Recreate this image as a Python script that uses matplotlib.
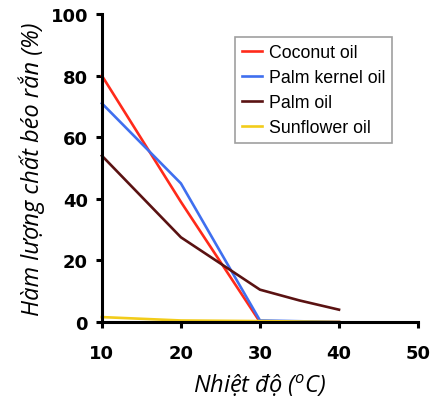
import matplotlib
matplotlib.use("Agg")
import matplotlib.pyplot as plt

plt.rcParams['mathtext.fontset'] = 'custom'
plt.rcParams['mathtext.rm'] = 'Open Sans:italic'
plt.rcParams['mathtext.it'] = 'Open Sans:italic'

temps_coconut = [10, 20, 30, 40]
coconut = [80, 39, 0, 0]
temps_pk = [10, 20, 30, 40]
palm_kernel = [71, 45, 0.5, 0]
temps_palm = [10, 20, 30, 35, 40]
palm = [54, 27.5, 10.5, 7, 4]
temps_sun = [10, 20, 30, 40]
sunflower = [1.6, 0.5, 0.3, 0]

series_labels = ["Coconut oil", "Palm kernel oil", "Palm oil", "Sunflower oil"]
colors = ["#ff2a1a", "#3f6fef", "#5a1212", "#f2cc1a"]

xticks = [10, 20, 30, 40, 50]
yticks = [0, 20, 40, 60, 80, 100]

fig = plt.figure(figsize=(4.41, 4.06), dpi=100)
ax = fig.add_axes([0.231, 0.2044, 0.717, 0.7586])

data = [(temps_coconut, coconut), (temps_pk, palm_kernel), (temps_palm, palm), (temps_sun, sunflower)]
handles = []
for (xs, ys), lab, c in zip(data, series_labels, colors):
    h, = ax.plot(xs, ys, color=c, lw=1.9, label=lab, clip_on=False, zorder=3)
    handles.append(h)

ax.set_xlim(10, 50)
ax.set_ylim(0, 100)
ax.set_xticks(xticks)
ax.set_yticks(yticks)
for s in ['top', 'right']:
    ax.spines[s].set_visible(False)
for s in ['left', 'bottom']:
    ax.spines[s].set_linewidth(2.2)
    ax.spines[s].set_zorder(4)
ax.tick_params(axis='both', direction='out', length=4, width=2.2)
ax.tick_params(axis='x', pad=12)
ax.tick_params(axis='y', pad=6)
for lbl in ax.get_xticklabels() + ax.get_yticklabels():
    lbl.set_fontfamily('DejaVu Sans')
    lbl.set_fontweight('bold')
    lbl.set_fontsize(13)

ax.set_ylabel("Hàm lượng chất béo rắn (%)", fontfamily='Open Sans', style='italic',
              fontsize=17, labelpad=4)
ax.set_xlabel(r"Nhiệt độ ($^{\mathrm{o}}$C)", fontfamily='Open Sans', style='italic',
              fontsize=17, labelpad=7)

leg = ax.legend(handles=handles, loc='upper left', bbox_to_anchor=(0.421, 0.925),
                prop={'family': 'Liberation Sans', 'size': 12.8}, frameon=True,
                fancybox=False, edgecolor='#888888', handlelength=1.1, handletextpad=0.4,
                labelspacing=0.45, borderpad=0.4, borderaxespad=0)
leg.get_frame().set_linewidth(1.2)

fig.savefig("out.png", dpi=100)
